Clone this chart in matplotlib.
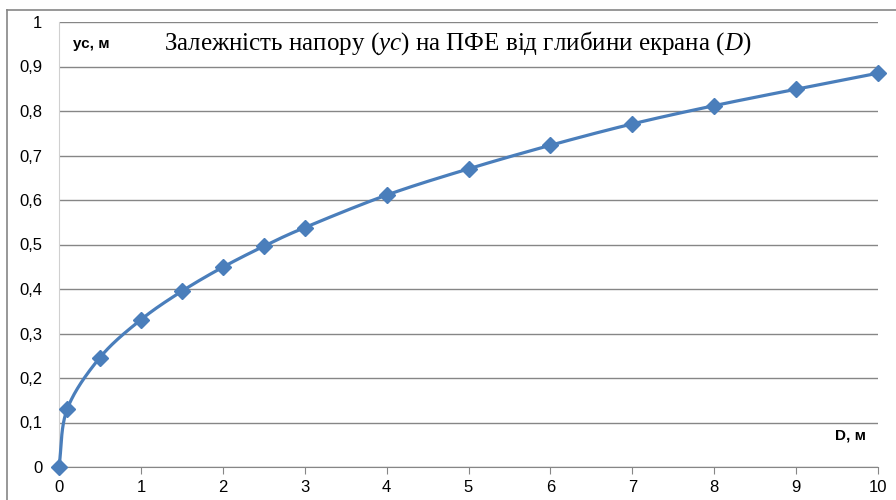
import numpy as np
import matplotlib
matplotlib.use("Agg")
import matplotlib.pyplot as plt
from matplotlib.lines import Line2D
from matplotlib.ticker import FuncFormatter

# depth of screen D, m  and head yc, m
depth = [0, 0.1, 0.5, 1, 1.5, 2, 2.5, 3, 4, 5, 6, 7, 8, 9, 10]
head = [0, 0.130, 0.246, 0.331, 0.395, 0.449, 0.496, 0.538, 0.611,
        0.670, 0.723, 0.771, 0.812, 0.849, 0.885]

x_ticks = list(range(0, 11))
y_ticks = [0, 0.1, 0.2, 0.3, 0.4, 0.5, 0.6, 0.7, 0.8, 0.9, 1.0]

title_text = "Залежність напору ($\\mathit{ус}$) на ПФЕ від глибини екрана ($\\mathit{D}$)"
y_label = "ус, м"
x_label = "D, м"

BLUE = "#4a7ebb"
GRID = "#868686"

plt.rcParams["mathtext.fontset"] = "custom"
plt.rcParams["mathtext.rm"] = "Liberation Serif"
plt.rcParams["mathtext.it"] = "Liberation Serif:italic"


def smooth(xs, ys, n=30):
    # Catmull-Rom style curve through the points, like Excel's smoothed line
    xs = np.asarray(xs, float)
    ys = np.asarray(ys, float)
    px = np.concatenate([[2 * xs[0] - xs[1]], xs, [2 * xs[-1] - xs[-2]]])
    py = np.concatenate([[2 * ys[0] - ys[1]], ys, [2 * ys[-1] - ys[-2]]])
    out_x, out_y = [], []
    t = np.linspace(0, 1, n)
    for i in range(1, len(px) - 2):
        p0x, p1x, p2x, p3x = px[i - 1:i + 3]
        p0y, p1y, p2y, p3y = py[i - 1:i + 3]
        # bezier control points (tension 1/6)
        c1x = p1x + (p2x - p0x) / 6
        c1y = p1y + (p2y - p0y) / 6
        c2x = p2x - (p3x - p1x) / 6
        c2y = p2y - (p3y - p1y) / 6
        bx = (1 - t) ** 3 * p1x + 3 * (1 - t) ** 2 * t * c1x + 3 * (1 - t) * t ** 2 * c2x + t ** 3 * p2x
        by = (1 - t) ** 3 * p1y + 3 * (1 - t) ** 2 * t * c1y + 3 * (1 - t) * t ** 2 * c2y + t ** 3 * p2y
        out_x.extend(bx)
        out_y.extend(by)
    return np.array(out_x), np.array(out_y)


fig = plt.figure(figsize=(8.96, 5.0), dpi=100)
ax = fig.add_axes([59 / 896, 33 / 500, (878 - 59) / 896, (467 - 22) / 500])

sx, sy = smooth(depth, head)
ax.plot(sx, sy, color=BLUE, lw=2.3, solid_capstyle="round", zorder=3, clip_on=False)
ax.plot(depth, head, linestyle="none", marker="D", ms=8.5, color=BLUE, zorder=4, clip_on=False)

ax.set_xlim(0, 10)
ax.set_ylim(0, 1)
ax.set_xticks(x_ticks)
ax.set_yticks(y_ticks)
ax.yaxis.set_major_formatter(FuncFormatter(lambda v, p: ("%g" % round(v, 1)).replace(".", ",")))
ax.grid(axis="y", color=GRID, lw=1)
ax.set_axisbelow(True)

for s in ["top", "right"]:
    ax.spines[s].set_visible(False)
ax.spines["left"].set_color("#d0d0d0")
ax.spines["bottom"].set_color(GRID)
ax.tick_params(axis="x", direction="out", length=5, color=GRID, labelsize=12, pad=4)
ax.tick_params(axis="y", length=0, labelsize=12, pad=12)
for lab in ax.get_xticklabels() + ax.get_yticklabels():
    lab.set_fontfamily("Liberation Sans")

ax.text(0.17, 0.95, y_label, fontsize=11, fontweight="bold", family="Liberation Sans",
        va="center", ha="left")
ax.text(9.85, 0.07, x_label, fontsize=11, fontweight="bold", family="Liberation Sans",
        va="center", ha="right")
fig.text(458 / 896, 1 - 43 / 500, title_text, fontsize=18, family="Liberation Serif",
         ha="center", va="center")

# outer chart border (only top and left edges show in the crop)
fig.add_artist(Line2D([7 / 896, 1], [1 - 10 / 500, 1 - 10 / 500], color=GRID, lw=1.2))
fig.add_artist(Line2D([7 / 896, 7 / 896], [0, 1 - 10 / 500], color=GRID, lw=1.2))

fig.savefig("out.png", dpi=100)
